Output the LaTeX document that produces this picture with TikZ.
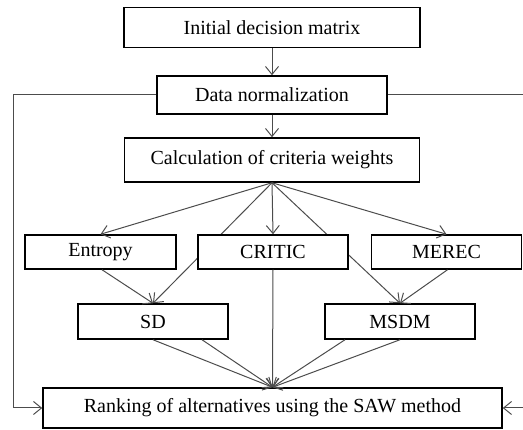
\documentclass[tikz,border=0pt]{standalone}
\usepackage{fontspec}
\setmainfont{Liberation Serif}
\usetikzlibrary{arrows.meta,backgrounds,calc}
\begin{document}
\begin{tikzpicture}[x=1pt,y=-1pt,
  box/.style={draw=black,line width=1.5pt,fill=white,inner sep=0pt,
    font=\fontsize{20}{23}\selectfont},
  conn/.style={draw=black!70,line width=1pt},
  arr/.style={conn,-{Straight Barb[length=8pt,width=13pt,line width=1pt]}}]
\useasboundingbox (0,0) rectangle (523,430);
\node[box,minimum width=296pt,minimum height=40pt] (init) at (272,27.5) {Initial decision matrix};
\node[box,minimum width=230pt,minimum height=38pt] (norm) at (272,95) {Data normalization};
\node[box,minimum width=295pt,minimum height=44pt] (calc) at (272,160) {Calculation of criteria weights};
\node[box,minimum width=151pt,minimum height=34pt] (entropy) at (100.5,252) {Entropy};
\node[box,minimum width=150pt,minimum height=34pt] (critic) at (273,252) {CRITIC};
\node[box,minimum width=150pt,minimum height=34pt] (merec) at (446.5,252) {MEREC};
\node[box,minimum width=150pt,minimum height=35pt] (sd) at (153,321.5) {SD};
\node[box,minimum width=150pt,minimum height=35pt] (msdm) at (400,321.5) {MSDM};
\node[box,minimum width=459pt,minimum height=40pt] (rank) at (272.5,408) {Ranking of alternatives using the SAW method};
\coordinate (lt) at (13,95);
\coordinate (lb) at (13,408);
\coordinate (rt) at (523,95);
\coordinate (rb) at (523,408);
\begin{pgfonlayer}{background}
\draw[arr] (calc.south) -- (sd.north);
\draw[arr] (calc.south) -- (msdm.north);
\end{pgfonlayer}
\draw[arr] (init.south) -- (norm.north);
\draw[arr] (norm.south) -- (calc.north);
\draw[arr] (calc.south) -- (entropy.north);
\draw[arr] (calc.south) -- (critic.north);
\draw[arr] (calc.south) -- (merec.north);
\draw[arr] ([xshift=1.5pt]entropy.south) -- (sd.north);
\draw[arr] ([xshift=1pt]merec.south) -- (msdm.north);
\draw[arr] (critic.south) -- (rank.north);
\draw[arr] (sd.south) -- (rank.north);
\draw[arr] ([xshift=49pt]sd.south) -- (rank.north);
\draw[arr] ([xshift=-55pt]msdm.south) -- (rank.north);
\draw[arr] (msdm.south) -- (rank.north);
\draw[conn] (norm.west) -- (lt) -- (lb);
\draw[arr] (lb) -- (rank.west);
\draw[conn] (norm.east) -- (rt) -- (rb);
\draw[arr] (rb) -- (rank.east);
\end{tikzpicture}
\end{document}
